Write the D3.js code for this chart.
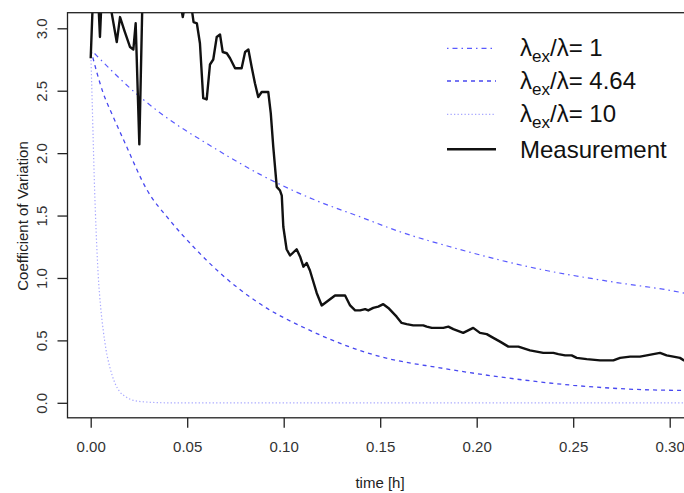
<!DOCTYPE html>
<html>
<head>
<meta charset="utf-8">
<script src="https://cdn.jsdelivr.net/npm/d3@7"></script>
<style>
  body { margin: 0; background: #fff; }
  svg { display: block; font-family: "Liberation Sans", Arial, sans-serif; }
</style>
</head>
<body>
<svg id="chart" width="684" height="493"></svg>
<script>
// time [h] and coefficient of variation
const measTime = [0.0000, 0.0013, 0.0030, 0.0040, 0.0048, 0.0058, 0.0080, 0.0100, 0.0135, 0.0152,
  0.0175, 0.0204, 0.0221, 0.0233, 0.0252, 0.0269, 0.0350, 0.0450, 0.0477, 0.0490,
  0.0524, 0.0533, 0.0550, 0.0566, 0.0583, 0.0601, 0.0618, 0.0635, 0.0653, 0.0670,
  0.0684, 0.0705, 0.0722, 0.0748, 0.0782, 0.0800, 0.0817, 0.0834, 0.0851, 0.0868,
  0.0886, 0.0903, 0.0920, 0.0933, 0.0946, 0.0964, 0.0981, 0.0990, 0.0998, 0.1015,
  0.1033, 0.1067, 0.1085, 0.1102, 0.1119, 0.1136, 0.1171, 0.1197, 0.1240, 0.1266,
  0.1318, 0.1344, 0.1370, 0.1396, 0.1422, 0.1438, 0.1464, 0.1490, 0.1516, 0.1542,
  0.1585, 0.1611, 0.1637, 0.1671, 0.1723, 0.1741, 0.1767, 0.1827, 0.1853, 0.1879,
  0.1896, 0.1930, 0.1982, 0.2017, 0.2052, 0.2086, 0.2121, 0.2164, 0.2216, 0.2276,
  0.2345, 0.2397, 0.2423, 0.2458, 0.2492, 0.2518, 0.2570, 0.2639, 0.2708, 0.2743,
  0.2795, 0.2846, 0.2881, 0.2915, 0.2950, 0.2984, 0.3019, 0.3053, 0.3074, 0.3100];
const measCV = [2.76, 3.30, 3.15, 3.20, 2.93, 3.30, 3.30, 3.20, 2.89, 3.09,
  2.98, 2.85, 2.83, 3.04, 2.07, 3.30, 3.45, 3.35, 3.09, 3.20,
  3.15, 3.05, 3.04, 2.88, 2.44, 2.43, 2.71, 2.75, 2.93, 2.95,
  2.81, 2.80, 2.76, 2.68, 2.68, 2.81, 2.83, 2.69, 2.56, 2.45,
  2.49, 2.49, 2.49, 2.32, 2.05, 1.73, 1.70, 1.66, 1.41, 1.23,
  1.18, 1.23, 1.17, 1.09, 1.12, 1.06, 0.88, 0.78, 0.83, 0.86,
  0.86, 0.78, 0.74, 0.74, 0.75, 0.74, 0.76, 0.77, 0.79, 0.76,
  0.69, 0.64, 0.63, 0.62, 0.62, 0.61, 0.60, 0.60, 0.61, 0.59,
  0.58, 0.56, 0.60, 0.56, 0.55, 0.52, 0.49, 0.45, 0.45, 0.42,
  0.40, 0.40, 0.39, 0.38, 0.38, 0.36, 0.35, 0.34, 0.34, 0.36,
  0.37, 0.37, 0.38, 0.39, 0.40, 0.38, 0.37, 0.36, 0.34, 0.35];

const ratio1Time = [0, 0.0256, 0.0463, 0.0567, 0.0877, 0.1153, 0.1395, 0.1603, 0.1862, 0.2328, 0.2656, 0.3070, 0.3100];
const ratio1CV = [2.83, 2.45, 2.21, 2.11, 1.83, 1.63, 1.49, 1.37, 1.25, 1.07, 0.98, 0.88, 0.87];

const ratio464Time = [0, 0.0065, 0.0117, 0.0178, 0.0290, 0.0411, 0.0532, 0.0670, 0.0860, 0.1136, 0.1500, 0.1810, 0.2155, 0.2500, 0.3053, 0.3100];
const ratio464CV = [2.83, 2.48, 2.29, 2.08, 1.71, 1.46, 1.25, 1.04, 0.81, 0.58, 0.37, 0.28, 0.20, 0.14, 0.10, 0.10];

const ratio10Time = [0, 0.0007, 0.0013, 0.0020, 0.0028, 0.0039, 0.0052, 0.0065, 0.0080, 0.0100, 0.0125, 0.0150, 0.0180, 0.0220, 0.0300, 0.0400, 0.3100];
const ratio10CV = [2.83, 2.45, 2.10, 1.72, 1.38, 1.02, 0.76, 0.58, 0.42, 0.28, 0.16, 0.09, 0.05, 0.02, 0.005, 0, 0];

const xTicks = [0, 0.05, 0.10, 0.15, 0.20, 0.25, 0.30];
const yTicks = [0, 0.5, 1.0, 1.5, 2.0, 2.5, 3.0];

const legendLabels = ["1", "4.64", "10"];

const svg = d3.select("#chart");
const frame = { left: 67.5, right: 686, top: 12.7, bottom: 417.8 };

const x = d3.scaleLinear().domain([0, 0.30]).range([90.7, 669.7]);
const y = d3.scaleLinear().domain([0, 3]).range([402.8, 28.3]);

svg.append("defs").append("clipPath").attr("id", "plotclip")
  .append("rect")
  .attr("x", frame.left).attr("y", frame.top)
  .attr("width", frame.right - frame.left).attr("height", frame.bottom - frame.top);

const line = d3.line().x(d => x(d[0])).y(d => y(d[1]));
const smooth = d3.line().x(d => x(d[0])).y(d => y(d[1])).curve(d3.curveMonotoneX);
const zip = (a, b) => a.map((t, i) => [t, b[i]]);

const series = [
  { data: zip(ratio1Time, ratio1CV), color: "#5a5aff", width: 1.2, dash: "1.5,4,5,4" },
  { data: zip(ratio464Time, ratio464CV), color: "#4848f0", width: 1.3, dash: "4,4" },
  { data: zip(ratio10Time, ratio10CV), color: "#a8a8ff", width: 1.2, dash: "1.3,2.2" }
];

const plot = svg.append("g").attr("clip-path", "url(#plotclip)");

series.forEach(s => {
  plot.append("path")
    .attr("d", smooth(s.data))
    .attr("fill", "none")
    .attr("stroke", s.color)
    .attr("stroke-width", s.width)
    .attr("stroke-dasharray", s.dash);
});

plot.append("path")
  .attr("d", line(zip(measTime, measCV)))
  .attr("fill", "none")
  .attr("stroke", "#111")
  .attr("stroke-width", 2.4)
  .attr("stroke-linejoin", "round");

// frame
svg.append("rect")
  .attr("x", frame.left).attr("y", frame.top)
  .attr("width", frame.right - frame.left).attr("height", frame.bottom - frame.top)
  .attr("fill", "none").attr("stroke", "#222").attr("stroke-width", 1.3);

// x axis
const xAxis = svg.append("g").attr("transform", `translate(0,${frame.bottom})`)
  .call(d3.axisBottom(x).tickValues(xTicks).tickSize(10).tickPadding(14).tickFormat(d3.format(".2f")));
xAxis.select(".domain").remove();
xAxis.selectAll("line").attr("stroke", "#222").attr("stroke-width", 1.3);
xAxis.selectAll("text").attr("font-size", 15).attr("fill", "#333")
  .attr("font-family", "Liberation Sans, Arial, sans-serif");

// y axis with rotated labels
const yAxis = svg.append("g").attr("transform", `translate(${frame.left},0)`)
  .call(d3.axisLeft(y).tickValues(yTicks).tickSize(10).tickFormat(d3.format(".1f")));
yAxis.select(".domain").remove();
yAxis.selectAll("line").attr("stroke", "#222").attr("stroke-width", 1.3);
yAxis.selectAll("text")
  .attr("x", null).attr("dy", null)
  .attr("text-anchor", "middle")
  .attr("dominant-baseline", "central")
  .attr("transform", "translate(-26.5,0) rotate(-90)")
  .attr("font-size", 15).attr("fill", "#333")
  .attr("font-family", "Liberation Sans, Arial, sans-serif");

// axis titles
svg.append("text")
  .attr("x", 380).attr("y", 482)
  .attr("text-anchor", "middle").attr("dominant-baseline", "central")
  .attr("font-size", 15).attr("fill", "#222")
  .text("time [h]");

svg.append("text")
  .attr("transform", "translate(22,216) rotate(-90)")
  .attr("text-anchor", "middle").attr("dominant-baseline", "central")
  .attr("font-size", 15).attr("fill", "#222")
  .text("Coefficient of Variation");

// legend
const legendRows = [48.3, 81, 114.3, 149.3];
const legend = svg.append("g");

series.forEach((s, i) => {
  legend.append("line")
    .attr("x1", 447).attr("x2", 496)
    .attr("y1", legendRows[i]).attr("y2", legendRows[i])
    .attr("stroke", s.color).attr("stroke-width", s.width)
    .attr("stroke-dasharray", s.dash);
  const t = legend.append("text")
    .attr("x", 520).attr("y", legendRows[i] + 8)
    .attr("font-size", 24).attr("fill", "#111");
  t.append("tspan").text("λ");
  t.append("tspan").attr("font-size", 17).attr("dy", 6).text("ex");
  t.append("tspan").attr("dy", -6).text("/λ= " + legendLabels[i]);
});

legend.append("line")
  .attr("x1", 447).attr("x2", 496)
  .attr("y1", legendRows[3]).attr("y2", legendRows[3])
  .attr("stroke", "#111").attr("stroke-width", 2.4);
legend.append("text")
  .attr("x", 520).attr("y", legendRows[3] + 8.5)
  .attr("font-size", 24).attr("fill", "#111")
  .text("Measurement");
</script>
</body>
</html>
